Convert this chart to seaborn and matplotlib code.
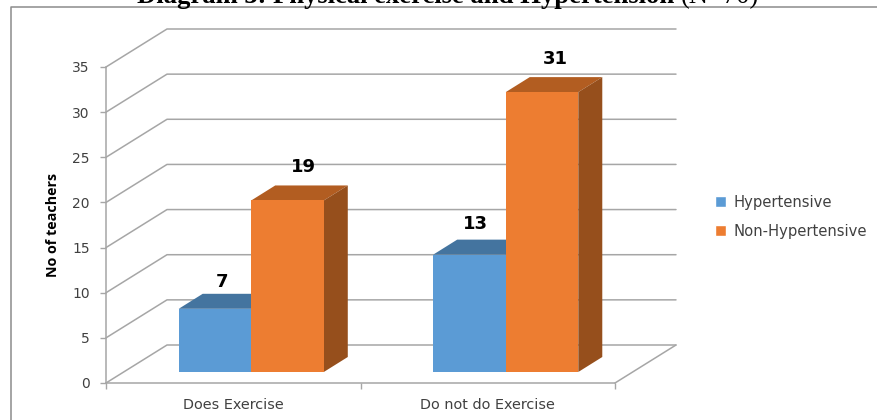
import matplotlib
matplotlib.use("Agg")
import matplotlib.pyplot as plt
import pandas as pd
import seaborn as sns
from matplotlib.lines import Line2D
from matplotlib.patches import Polygon

# Data
CATEGORIES = ["Does Exercise", "Do not do Exercise"]
HYPERTENSIVE = [7, 13]
NON_HYPERTENSIVE = [19, 31]
SERIES = ["Hypertensive", "Non-Hypertensive"]
Y_TICKS = [0, 5, 10, 15, 20, 25, 30, 35]

# Colours: front, top, side of each box
COLORS = {"Hypertensive": ("#5b9bd5", "#44749f", "#3a6288"),
          "Non-Hypertensive": ("#ed7d31", "#b25d21", "#964f1c")}
GRID = "#a6a6a6"
TEXT = "#404040"

W, H = 877, 420
AX_L, AX_R, AX_B, AX_T = 106, 615, 383, 67  # front plane in pixels
LABEL_NUDGE = [(7, 27), (6, 31), (16, 33), (13, 33)]  # label offset from front top centre, px

sns.set_theme(style="white")
plt.rcParams["font.family"] = ["DejaVu Sans"]
df = pd.DataFrame({
    "category": CATEGORIES * 2,
    "series": [SERIES[0]] * 2 + [SERIES[1]] * 2,
    "count": HYPERTENSIVE + NON_HYPERTENSIVE,
})

fig = plt.figure(figsize=(W / 100, H / 100), dpi=100)
ax = fig.add_axes([AX_L / W, 1 - AX_B / H, (AX_R - AX_L) / W, (AX_B - AX_T) / H])

sns.barplot(data=df, x="category", y="count", hue="series", hue_order=SERIES,
            palette={s: COLORS[s][0] for s in SERIES}, width=0.57, gap=0,
            saturation=1, ax=ax, legend=True)
ax.set_xlim(-0.5, 1.5)
ax.set_ylim(0, 35)

# pixels to data units
PX = 2 / (AX_R - AX_L)
PY = 35 / (AX_B - AX_T)


def px(dx, dy):
    return dx * PX, dy * PY


# walls and floor
bx, by = px(61, 38)
for v in Y_TICKS:
    ax.add_line(Line2D([-0.5, -0.5 + bx, 1.5 + bx], [v, v + by, v + by], color=GRID, lw=1.1,
                       clip_on=False, zorder=1))
ax.add_line(Line2D([1.5, 1.5 + bx], [0, by], color=GRID, lw=1.1, clip_on=False, zorder=1))

# move bars onto the mid plane and add the 3D faces
mx, my = px(18, 11)
sx, sy = px(24, 15)
nudges = iter(LABEL_NUDGE)
for s_idx, (series, container) in enumerate(zip(SERIES, ax.containers)):
    _, top_c, side_c = COLORS[series]
    z = 2 + s_idx
    for bar in container:
        bar.set_x(bar.get_x() + mx)
        bar.set_y(my)
        bar.set_zorder(z + 0.5)
        bar.set_clip_on(False)
        bar.set_linewidth(0)
        x0, x1 = bar.get_x(), bar.get_x() + bar.get_width()
        y0, y1 = my, my + bar.get_height()
        ax.add_patch(Polygon([(x0, y1), (x0 + sx, y1 + sy), (x1 + sx, y1 + sy), (x1, y1)],
                             facecolor=top_c, lw=0, clip_on=False, zorder=z))
        ax.add_patch(Polygon([(x1, y0), (x1 + sx, y0 + sy), (x1 + sx, y1 + sy), (x1, y1)],
                             facecolor=side_c, lw=0, clip_on=False, zorder=z))

# data labels
for container in ax.containers:
    for bar in container:
        dx, dy = next(nudges)
        ax.annotate(f"{bar.get_height():.0f}",
                    (bar.get_x() + bar.get_width() / 2, my + bar.get_height()),
                    xytext=(dx * 0.72, dy * 0.72), textcoords="offset points",
                    ha="center", va="center", fontsize=13, fontweight="bold",
                    color="black", zorder=10, annotation_clip=False)

# axes
for side in ["top", "right"]:
    ax.spines[side].set_visible(False)
for side in ["left", "bottom"]:
    ax.spines[side].set_color(GRID)
    ax.spines[side].set_linewidth(1.1)
    ax.spines[side].set_zorder(1)
ax.set_yticks(Y_TICKS)
ax.set_xticks([-0.5, 0.5, 1.5], minor=True)
ax.tick_params(axis="y", length=4.3, width=1, color=GRID, labelsize=10, labelcolor=TEXT, pad=7.5,
               left=True)
ax.tick_params(axis="x", which="major", length=0, labelsize=10.4, labelcolor=TEXT, pad=11)
ax.tick_params(axis="x", which="minor", length=4, width=1, color=GRID, bottom=True)
ax.set_xlabel("")
ax.set_ylabel("No of teachers", fontsize=10.3, fontweight="bold", color="black",
              fontfamily="Open Sans")
ax.yaxis.set_label_coords((60 - AX_L) / (AX_R - AX_L), (AX_B - 225) / (AX_B - AX_T))

# legend
handles, labels = ax.get_legend_handles_labels()
ax.legend(handles, labels, loc="upper left", frameon=False, fontsize=10.6, labelcolor=TEXT,
          bbox_to_anchor=(712 / W, 1 - 192 / H), bbox_transform=fig.transFigure,
          handlelength=0.78, handleheight=0.78, handletextpad=0.45, labelspacing=0.95,
          borderpad=0.2, borderaxespad=0)

# chart frame, open on the right and at the bottom
fig.add_artist(Line2D([11 / W, 11 / W, 1], [0, 1 - 7 / H, 1 - 7 / H], color="#8c8c8c", lw=1.1))

# document caption, cut by the top edge of the picture
cap = fig.text(137 / W, 1 - 3 / H, "Diagram 3: Physical exercise and Hypertension ",
               fontfamily="Liberation Serif", fontweight="bold", fontsize=19.2, color="black",
               ha="left", va="baseline")
fig.canvas.draw()
ext = cap.get_window_extent()
fig.text(ext.x1 / W, 1 - 3 / H, "(N=70)", fontfamily="Liberation Serif", fontsize=19.2,
         color="black", ha="left", va="baseline")

fig.savefig("out.png", dpi=100)
